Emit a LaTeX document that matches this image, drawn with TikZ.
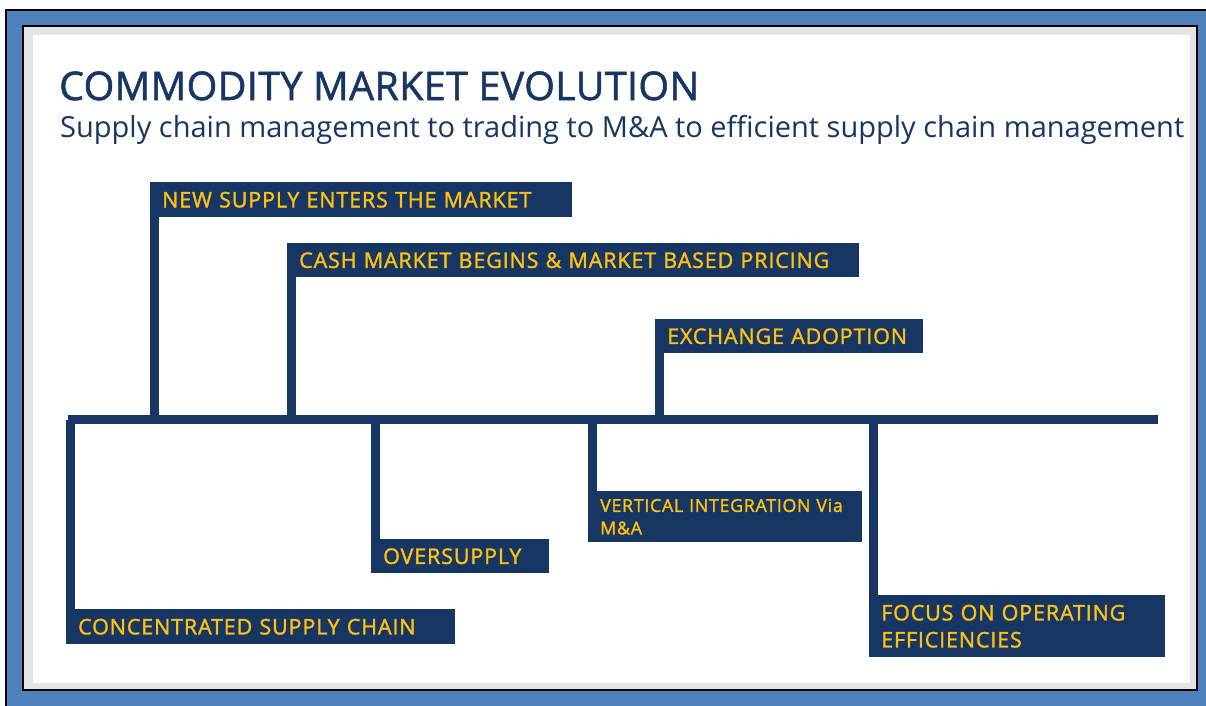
\documentclass[tikz,border=0pt]{standalone}
\usepackage{fontspec}
\setmainfont{Open Sans}
\newfontfamily\boxfont{Open Sans}[FakeBold=1.4, LetterSpace=4]
\newfontfamily\headfont{Open Sans}[FakeBold=1.4, LetterSpace=1]
\usetikzlibrary{positioning}
\usetikzlibrary{calc}

\definecolor{navy}{RGB}{24,54,100}
\definecolor{gold}{RGB}{255,194,14}
\definecolor{frameblue}{RGB}{79,129,189}
\definecolor{shadowgray}{RGB}{228,228,228}

\tikzset{
    evbox/.style = {fill = navy, text = gold, anchor = north west, align = left,
                    inner xsep = 12pt, inner ysep = 0pt,
                    font = \boxfont\fontsize{21.5}{27}\selectfont},
    spine/.style = {draw = navy, line width = 9pt},
    stem/.style = {draw = navy, line width = 8.5pt}
}

\begin{document}
\begin{tikzpicture}[x = 1pt, y = -1pt]

        % Define frame
        \useasboundingbox (0,0) rectangle (1206,705);
        \filldraw[fill = white, draw = white] (0,0) rectangle (1206,705);
        \filldraw[fill = frameblue, draw = black, line width = 1.5pt] (6,10) rectangle (1216,715);
        \filldraw[fill = shadowgray, draw = black, line width = 2.5pt] (23,26) rectangle (1197,690);
        \fill[white] (33,35) rectangle (1190,683);

        % Title
        \node[anchor = base west, inner sep = 0, text = navy, font = \headfont\fontsize{39.4}{44}\selectfont] (title) at (59,100) {COMMODITY MARKET EVOLUTION};
        \node[anchor = base west, inner sep = 0, text = navy, font = \fontsize{29}{32}\selectfont] (subtitle) at (60,137) {Supply chain management to trading to M\&A to efficient supply chain management};

        % Define center line
        \coordinate (spineW) at (68,419.5);
        \coordinate (spineE) at (1158,419.5);

        % Upper events
        \node[evbox, text width = 398pt, minimum height = 35pt] (newsupply) at (150,182) {NEW SUPPLY ENTERS THE MARKET};
        \node[evbox, text width = 548pt, minimum height = 34pt] (cashmarket) at (287,243) {CASH MARKET BEGINS \& MARKET BASED PRICING};
        \node[evbox, text width = 244pt, minimum height = 34pt] (exchange) at (655,319) {EXCHANGE ADOPTION};

        % Lower events
        \node[evbox, text width = 365pt, minimum height = 35pt] (concentrated) at (66,609) {CONCENTRATED SUPPLY CHAIN};
        \node[evbox, text width = 154pt, minimum height = 34pt] (oversupply) at (371,539) {OVERSUPPLY};
        \node[evbox, text width = 250pt, minimum height = 51pt, font = \boxfont\fontsize{17.8}{22.5}\selectfont] (vertical) at (588,491) {VERTICAL INTEGRATION~Via\\M\&A};
        \node[evbox, text width = 272pt, minimum height = 62pt] (focus) at (869,595) {FOCUS ON OPERATING\\EFFICIENCIES};

        % Stems
        \foreach \ev in {newsupply, cashmarket, exchange}
            \draw[stem] ([xshift = 4.25pt]\ev.south west) -- ([xshift = 4.25pt]\ev.south west |- spineW);
        \foreach \ev in {concentrated, oversupply, vertical, focus}
            \draw[stem] ([xshift = 4.25pt]\ev.north west) -- ([xshift = 4.25pt]\ev.north west |- spineW);
        \draw[spine] (spineW) -- (spineE);
    \end{tikzpicture}
\end{document}
